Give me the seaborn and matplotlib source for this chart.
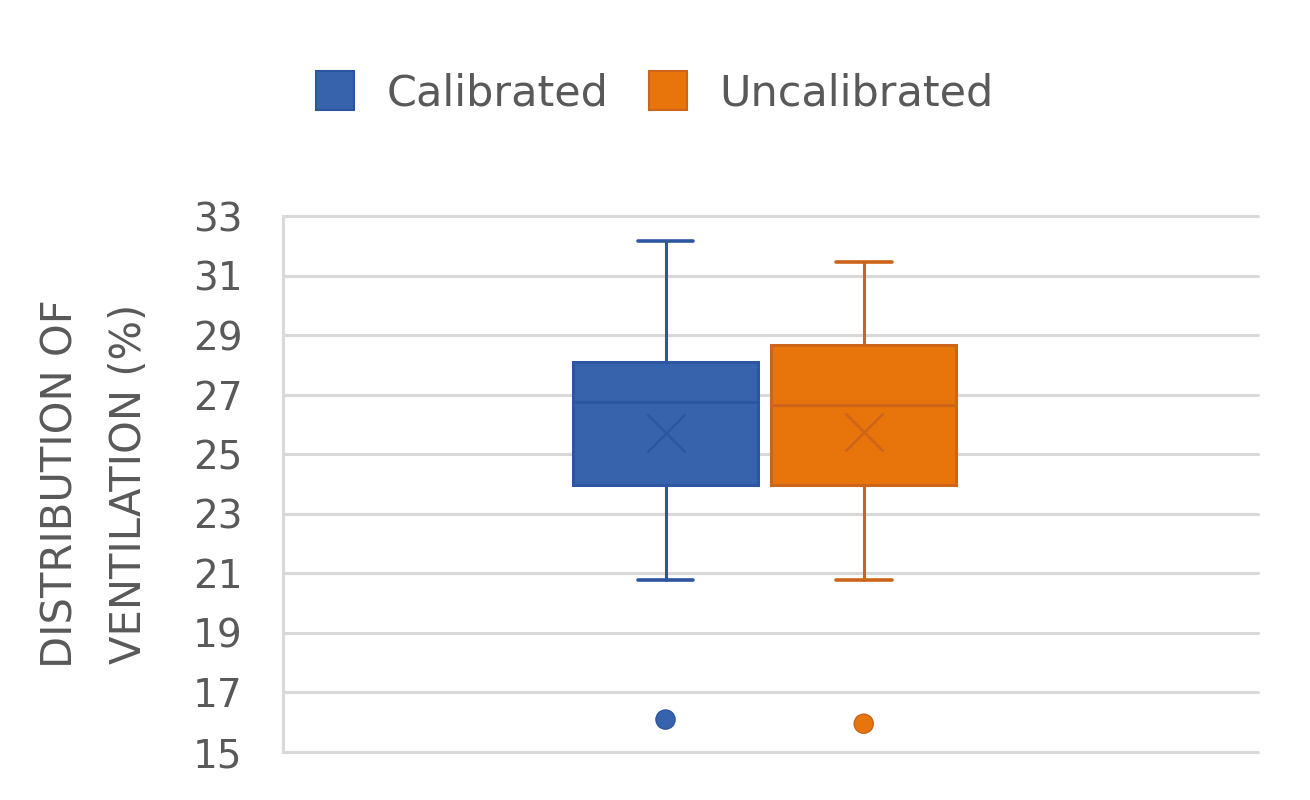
import matplotlib
matplotlib.use("Agg")
import matplotlib.pyplot as plt
import seaborn as sns
import pandas as pd
from matplotlib.patches import Patch

# ---- data ----
series = ["Calibrated", "Uncalibrated"]
whisker_low = [20.77, 20.77]
q1 = [23.97, 23.97]
median = [26.77, 26.65]
q3 = [28.11, 28.67]
whisker_high = [32.17, 31.45]
mean = [25.70, 25.76]
outliers = [[16.09], [15.95]]
yticks = [15, 17, 19, 21, 23, 25, 27, 29, 31, 33]

fills = ["#3763ad", "#e8740c"]
edges = ["#2c56a0", "#cc651a"]
text_color = "#595959"

sns.set_theme(style="white")
plt.rcParams["font.family"] = ["DejaVu Sans"]

fig = plt.figure(figsize=(13.1, 8), dpi=100)
ax = fig.add_axes([0.216, 0.06, 0.744, 0.6698])

positions = [0.3925, 0.5959]
width = 0.19

for i, name in enumerate(series):
    st = dict(label=name, whislo=whisker_low[i], q1=q1[i], med=median[i],
              q3=q3[i], whishi=whisker_high[i], mean=mean[i], fliers=[])
    ax.bxp([st], positions=[positions[i]], widths=width, capwidths=0.057,
           patch_artist=True, showmeans=True, showfliers=False,
           manage_ticks=False,
           boxprops=dict(facecolor=fills[i], edgecolor=edges[i], linewidth=2.2),
           medianprops=dict(color=edges[i], linewidth=2.2),
           whiskerprops=dict(color=edges[i], linewidth=2.2),
           capprops=dict(color=edges[i], linewidth=2.6),
           meanprops=dict(marker="x", markersize=28, markeredgewidth=1.8,
                          markeredgecolor=edges[i], linestyle="none"),
           zorder=3)

flier_df = pd.DataFrame({
    "x": [positions[i] for i in range(len(series)) for _ in outliers[i]],
    "y": [v for i in range(len(series)) for v in outliers[i]],
    "series": [series[i] for i in range(len(series)) for _ in outliers[i]],
})
sns.scatterplot(data=flier_df, x="x", y="y", hue="series", palette=fills,
                s=190, edgecolor=edges, linewidth=1.0, legend=False, ax=ax,
                zorder=4)

ax.set_xlim(0, 1)
ax.set_ylim(15, 33)
ax.set_yticks(yticks)
ax.set_yticklabels([str(t) for t in yticks])
ax.set_xticks([])
ax.set_xlabel("")
ax.grid(axis="y", color="#d9d9d9", linewidth=2.2, zorder=0)
ax.set_axisbelow(True)
for gl in ax.get_ygridlines():
    gl.set_clip_on(False)
for s in ["top", "right", "bottom"]:
    ax.spines[s].set_visible(False)
ax.spines["left"].set_color("#d9d9d9")
ax.spines["left"].set_linewidth(2.2)
ax.tick_params(axis="y", length=0, pad=29, labelsize=28, labelcolor=text_color)

ax.set_ylabel("DISTRIBUTION OF\nVENTILATION (%)", fontsize=30, color=text_color,
              linespacing=1.8, labelpad=31)

handles = [Patch(facecolor=fills[i], edgecolor=edges[i], linewidth=1.5, label=series[i])
           for i in range(len(series))]
leg = fig.legend(handles=handles, loc="center", bbox_to_anchor=(0.5, 0.884), ncol=2,
                 frameon=False, fontsize=31, handlelength=0.88, handleheight=1.0,
                 handletextpad=0.75, columnspacing=0.95)
for t in leg.get_texts():
    t.set_color(text_color)

fig.savefig("out.png", dpi=100, facecolor="white")
